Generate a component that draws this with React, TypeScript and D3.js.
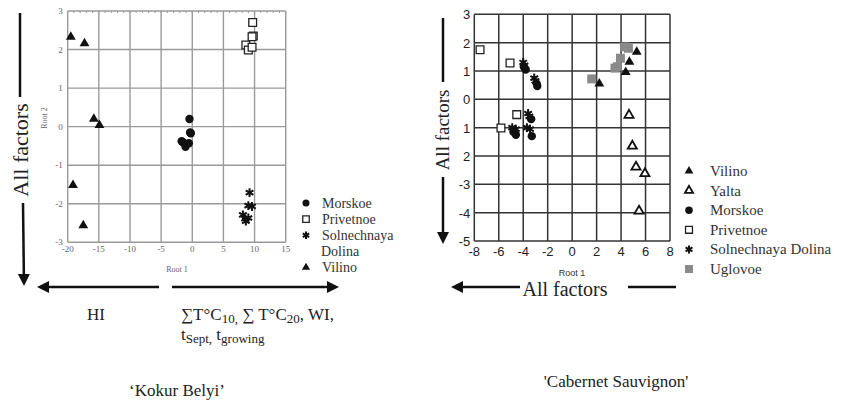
import React from "react";
import * as d3 from "d3";

// Kokur Belyi (left plot): [Root 1, Root 2]
const kokurMorskoe = [[-0.45, 0.2], [-0.23, -0.17], [-0.35, -0.15], [-1.46, -0.41], [-1.7, -0.38], [-1.08, -0.52], [-0.55, -0.43]];
const kokurPrivetnoe = [[9.7, 2.7], [9.8, 2.35], [9.6, 2.33], [8.6, 2.12], [9.0, 1.99], [9.6, 2.06]];
const kokurSolnechnaya = [[9.2, -1.71], [9.0, -2.05], [9.58, -2.07], [8.13, -2.29], [8.5, -2.39], [9.0, -2.37], [8.6, -2.45]];
const kokurVilino = [[-19.5, 2.33], [-17.3, 2.16], [-15.8, 0.2], [-14.9, 0.04], [-19.15, -1.52], [-17.5, -2.56]];

// Cabernet Sauvignon (right plot)
const cabVilino = [[5.28, 1.67], [4.68, 1.32], [4.38, 0.96], [2.22, 0.55]];
const cabYalta = [[4.65, -0.56], [4.92, -1.65], [5.22, -2.39], [5.95, -2.62], [5.47, -3.94]];
const cabMorskoe = [[-3.95, 1.15], [-3.8, 1.05], [-2.9, 0.55], [-2.85, 0.47], [-3.35, -0.7], [-3.3, -1.3], [-4.6, -1.25], [-4.8, -1.15]];
const cabPrivetnoe = [[-7.53, 1.75], [-5.08, 1.28], [-4.53, -0.54], [-5.82, -1.01]];
const cabSolnechnaya = [[-4.0, 1.3], [-3.9, 1.2], [-3.1, 0.75], [-3.0, 0.65], [-3.6, -0.5], [-3.5, -0.6], [-4.9, -1.0], [-4.6, -1.05], [-3.7, -1.0], [-3.45, -1.05]];
const cabUglovoe = [[4.3, 1.85], [4.6, 1.8], [3.95, 1.45], [3.7, 1.15], [3.5, 1.1], [1.6, 0.72]];

const kokurXTicks = [-20, -15, -10, -5, 0, 5, 10, 15];
const kokurYTicks = [-3, -2, -1, 0, 1, 2, 3];
const cabXTicks = [-8, -6, -4, -2, 0, 2, 4, 6, 8];
const cabYTicks = [-5, -4, -3, -2, -1, 0, 1, 2, 3];
const cabYTickLabels = ["-5", "-4", "-3", "2", "1", "0", "1", "2", "3"];

const kokurLegend = ["Morskoe", "Privetnoe", "Solnechnaya", "Dolina", "Vilino"];
const cabLegend = ["Vilino", "Yalta", "Morskoe", "Privetnoe", "Solnechnaya Dolina", "Uglovoe"];

const serif = { fontFamily: "Liberation Serif" };
const sans = { fontFamily: "Liberation Sans" };

type Kind = "tri" | "triOpen" | "circle" | "square" | "star" | "grey";

const Marker = ({ kind, x, y, s = 1 }: { kind: Kind; x: number; y: number; s?: number }) => {
  const t = `translate(${x},${y})`;
  if (kind === "tri") return <path transform={t} d={d3.symbol(d3.symbolTriangle, 42 * s)()!} fill="#111" />;
  if (kind === "triOpen")
    return <path transform={t} d={d3.symbol(d3.symbolTriangle, 36 * s)()!} fill="#fff" stroke="#111" strokeWidth={1.8} />;
  if (kind === "circle") return <circle cx={x} cy={y} r={4.2 * Math.sqrt(s)} fill="#111" />;
  if (kind === "square")
    return <path transform={t} d={d3.symbol(d3.symbolSquare, 60 * s)()!} fill="#fff" stroke="#222" strokeWidth={1.3} />;
  if (kind === "grey") return <path transform={t} d={d3.symbol(d3.symbolSquare, 80 * s)()!} fill="#8a8a8a" />;
  return <path transform={t} d={d3.symbol(d3.symbolAsterisk, 55 * s)()!} fill="none" stroke="#111" strokeWidth={2} />;
};

const Arrow = ({ x1, y1, x2, y2 }: { x1: number; y1: number; x2: number; y2: number }) => {
  const a = Math.atan2(y2 - y1, x2 - x1);
  const len = 12, w = 6;
  const bx = x2 - len * Math.cos(a), by = y2 - len * Math.sin(a);
  const px = -Math.sin(a) * w, py = Math.cos(a) * w;
  return (
    <g>
      <line x1={x1} y1={y1} x2={bx} y2={by} stroke="#111" strokeWidth={2.5} />
      <path d={`M${x2},${y2}L${bx + px},${by + py}L${bx - px},${by - py}Z`} fill="#111" />
    </g>
  );
};

const Kokur = () => {
  const x = d3.scaleLinear().domain([-20, 15]).range([67.7, 285.7]);
  const y = d3.scaleLinear().domain([-3, 3]).range([242.3, 11]);
  const series: [number[][], Kind][] = [
    [kokurVilino, "tri"],
    [kokurPrivetnoe, "square"],
    [kokurMorskoe, "circle"],
    [kokurSolnechnaya, "star"],
  ];
  const legendKinds: (Kind | null)[] = ["circle", "square", "star", null, "tri"];
  return (
    <g>
      {kokurXTicks.map((t) => (
        <line key={"gx" + t} x1={x(t)} x2={x(t)} y1={y(3)} y2={y(-3)} stroke="#9a9a9a" strokeWidth={1.4} />
      ))}
      {kokurYTicks.map((t) => (
        <line key={"gy" + t} x1={x(-20)} x2={x(15)} y1={y(t)} y2={y(t)} stroke="#9a9a9a" strokeWidth={1.4} />
      ))}
      {d3.range(-20, 15.1, 1).map((t) => (
        <line key={"mt" + t} x1={x(t)} x2={x(t)} y1={y(3)} y2={y(3) + 2} stroke="#999" />
      ))}
      {kokurXTicks.map((t) => (
        <text key={"lx" + t} x={x(t)} y={y(-3) + 10} fontSize={9} fill="#666" style={serif} textAnchor="middle">
          {t}
        </text>
      ))}
      {kokurYTicks.map((t) => (
        <text key={"ly" + t} x={x(-20) - 5} y={y(t) + 3} fontSize={9} fill="#666" style={serif} textAnchor="end">
          {t}
        </text>
      ))}
      <text x={177} y={272} fontSize={8} fill="#666" style={serif} textAnchor="middle">Root 1</text>
      <text transform="translate(47,118) rotate(-90)" fontSize={8} fill="#666" style={serif} textAnchor="middle">Root 2</text>
      {series.map(([data, kind]) =>
        data.map((d, i) => <Marker key={kind + i} kind={kind} x={x(d[0])} y={y(d[1])} />)
      )}
      {kokurLegend.map((name, i) => (
        <g key={name}>
          {legendKinds[i] && <Marker kind={legendKinds[i] as Kind} x={306} y={203 + i * 16.1} s={0.7} />}
          <text x={i === 3 ? 321 : 322} y={207.5 + i * 16.1} fontSize={14} fill="#333" style={serif}>
            {name}
          </text>
        </g>
      ))}
      {/* factor arrows */}
      <line x1={20} y1={13} x2={20} y2={97} stroke="#111" strokeWidth={2.5} />
      <text transform="translate(28,150) rotate(-90)" fontSize={22} fill="#222" style={serif} textAnchor="middle">All factors</text>
      <Arrow x1={23} y1={203} x2={24} y2={286} />
      <Arrow x1={159} y1={287} x2={37} y2={287} />
      <Arrow x1={172} y1={287} x2={339} y2={287} />
      <text x={96} y={320} fontSize={17} fill="#222" style={serif} textAnchor="middle">HI</text>
      <text x={181} y={320} fontSize={17} fill="#222" style={serif}>
        ∑T°C<tspan fontSize={13} dy={3}>10,</tspan>
        <tspan dy={-3}> ∑ T°C</tspan>
        <tspan fontSize={13} dy={3}>20</tspan>
        <tspan dy={-3}>, WI,</tspan>
      </text>
      <text x={181} y={340} fontSize={17} fill="#222" style={serif}>
        t<tspan fontSize={13} dy={3}>Sept,</tspan>
        <tspan dy={-3}> t</tspan>
        <tspan fontSize={13} dy={3}>growing</tspan>
      </text>
      <text x={177} y={396} fontSize={17} fill="#222" style={serif} textAnchor="middle">‘Kokur Belyi’</text>
    </g>
  );
};

const Cabernet = () => {
  const x = d3.scaleLinear().domain([-8, 8]).range([474.3, 670]);
  const y = d3.scaleLinear().domain([-5, 3]).range([241, 14.3]);
  const series: [number[][], Kind][] = [
    [cabPrivetnoe, "square"],
    [cabMorskoe, "circle"],
    [cabSolnechnaya, "star"],
    [cabUglovoe, "grey"],
    [cabVilino, "tri"],
    [cabYalta, "triOpen"],
  ];
  const legendKinds: Kind[] = ["tri", "triOpen", "circle", "square", "star", "grey"];
  return (
    <g>
      {cabXTicks.map((t) => (
        <line key={"gx" + t} x1={x(t)} x2={x(t)} y1={y(3)} y2={y(-5)} stroke="#333" strokeWidth={1.5} />
      ))}
      {cabYTicks.map((t) => (
        <line key={"gy" + t} x1={x(-8)} x2={x(8)} y1={y(t)} y2={y(t)} stroke="#333" strokeWidth={1.5} />
      ))}
      {cabXTicks.map((t) => (
        <text key={"lx" + t} x={x(t)} y={y(-5) + 15} fontSize={13} fill="#222" style={sans} textAnchor="middle">
          {t}
        </text>
      ))}
      {cabYTicks.map((t, i) => (
        <text key={"ly" + t} x={x(-8) - 4} y={y(t) + 5} fontSize={13} fill="#222" style={sans} textAnchor="end">
          {cabYTickLabels[i]}
        </text>
      ))}
      <text x={572} y={276} fontSize={9} fill="#333" style={sans} textAnchor="middle">Root 1</text>
      {series.map(([data, kind]) =>
        data.map((d, i) => <Marker key={kind + i} kind={kind} x={x(d[0])} y={y(d[1])} />)
      )}
      {cabLegend.map((name, i) => (
        <g key={name}>
          <Marker kind={legendKinds[i]} x={689} y={171 + i * 19.6} s={0.8} />
          <text x={710} y={176 + i * 19.6} fontSize={15} fill="#333" style={serif}>
            {name}
          </text>
        </g>
      ))}
      <line x1={443} y1={18} x2={443} y2={82} stroke="#111" strokeWidth={2.5} />
      <text transform="translate(449,130) rotate(-90)" fontSize={19} fill="#222" style={serif} textAnchor="middle">All factors</text>
      <Arrow x1={443} y1={177} x2={443} y2={244} />
      <Arrow x1={520} y1={287} x2={451} y2={287} />
      <text x={565} y={296} fontSize={20} fill="#222" style={serif} textAnchor="middle">All factors</text>
      <line x1={628} y1={287} x2={676} y2={287} stroke="#111" strokeWidth={2.5} />
      <text x={616} y={387} fontSize={17} fill="#222" style={serif} textAnchor="middle">'Cabernet Sauvignon'</text>
    </g>
  );
};

export default function App() {
  return (
    <svg width={849} height={404} style={{ position: "absolute", left: 0, top: 0, background: "#fff" }}>
      <rect width={849} height={404} fill="#fff" />
      <Kokur />
      <Cabernet />
    </svg>
  );
}
